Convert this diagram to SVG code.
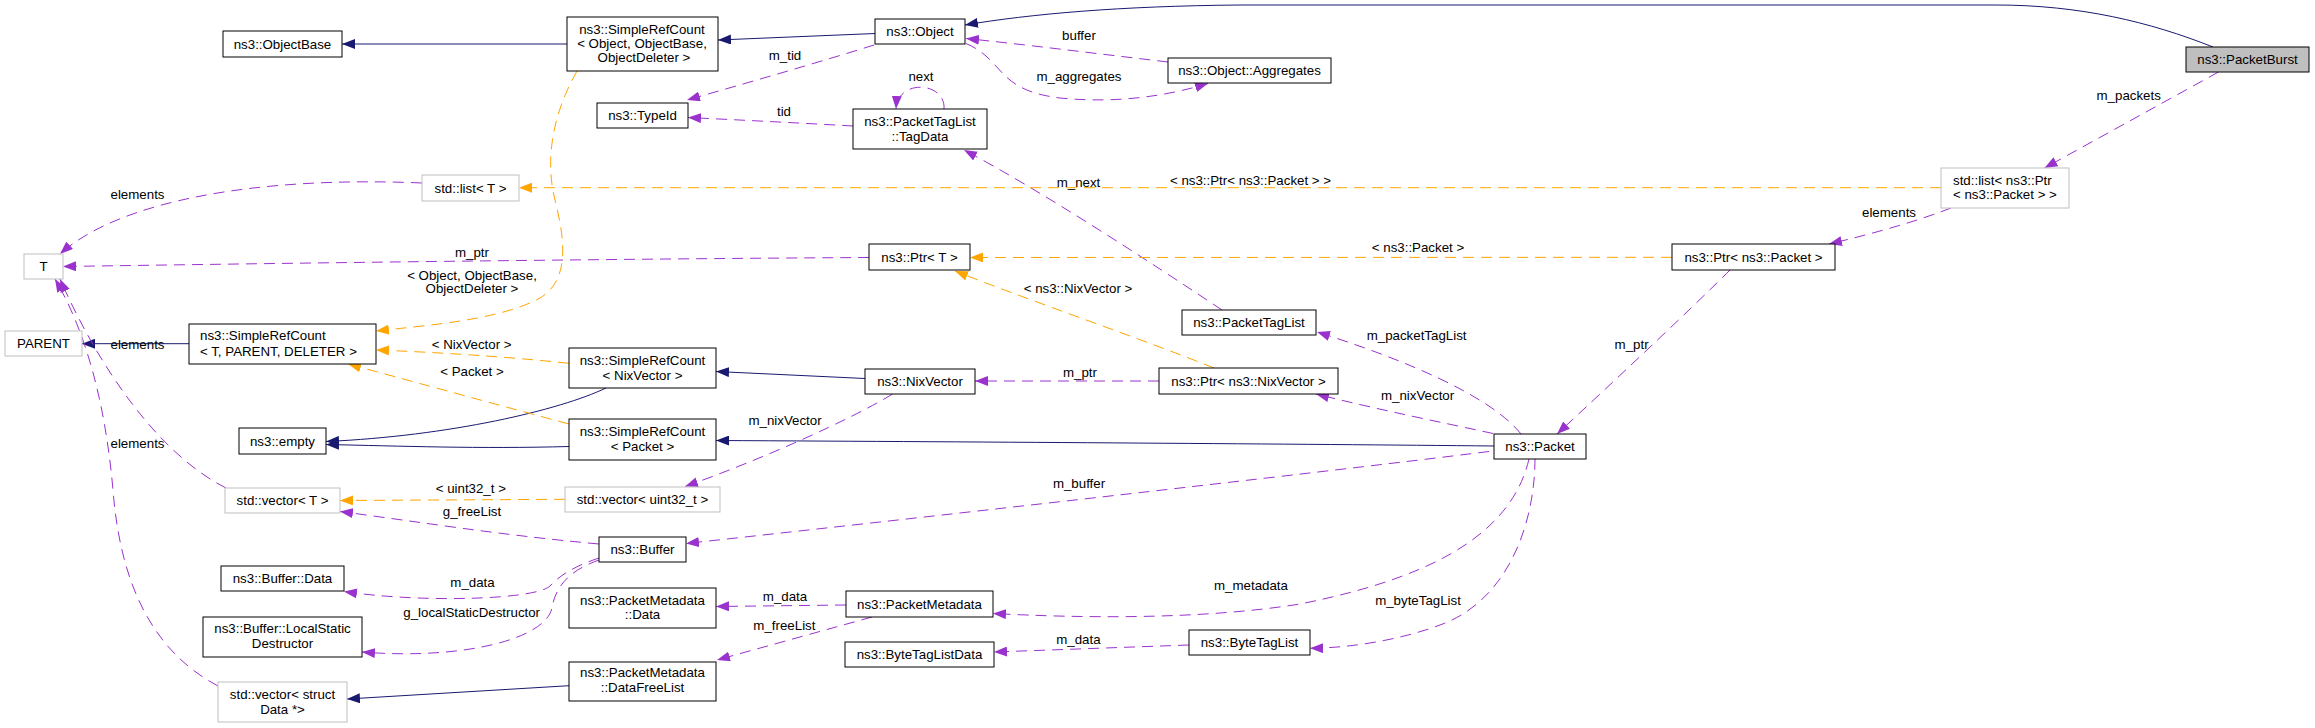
<svg xmlns="http://www.w3.org/2000/svg" width="2315" height="728" viewBox="0 0 2315 728">
<defs>
<style>
text{font-family:"Liberation Sans",Arial,sans-serif;font-size:13.3px;fill:#000;text-anchor:middle}
.l{text-anchor:start}
.node rect{fill:#fff;stroke:#000;stroke-width:1}
.node.u rect{stroke:#bfbfbf}
.node.hl rect{fill:#bfbfbf}
.edges path{fill:none;stroke-width:1}
.inh{stroke:#191970;marker-end:url(#an)}
.use{stroke:#9a32cd;stroke-dasharray:11,7;marker-end:url(#ap)}
.tpl{stroke:#ffa500;stroke-dasharray:11,7;marker-end:url(#ao)}
</style>
<marker id="an" viewBox="0 0 13 10" refX="13" refY="5" markerWidth="13" markerHeight="10" markerUnits="userSpaceOnUse" orient="auto"><path d="M0,0L13,5L0,10z" fill="#191970"/></marker>
<marker id="ap" viewBox="0 0 13 10" refX="13" refY="5" markerWidth="13" markerHeight="10" markerUnits="userSpaceOnUse" orient="auto"><path d="M0,0L13,5L0,10z" fill="#9a32cd"/></marker>
<marker id="ao" viewBox="0 0 13 10" refX="13" refY="5" markerWidth="13" markerHeight="10" markerUnits="userSpaceOnUse" orient="auto"><path d="M0,0L13,5L0,10z" fill="#ffa500"/></marker>
</defs>
<rect width="2315" height="728" fill="#fff"/>
<g id="connectors" class="edges">
<path class="inh" d="M567,44L342,44"/>
<path class="inh" d="M875,33.5L718,40"/>
<path class="inh" d="M2213,47C2150,22 2080,5 1996,5L1240,5C1120,6 1030,14 965,25"/>
<path class="inh" d="M189,343.7L82,343.7"/>
<path class="inh" d="M606,388C560,410 450,436 326,441.5"/>
<path class="inh" d="M569,446.5C480,449 400,446 326,444.5"/>
<path class="inh" d="M865,378.5L716,371.5"/>
<path class="inh" d="M1494,446C1300,444 1000,442 716,440.5"/>
<path class="inh" d="M569,685.7L347,699"/>
<path class="use" d="M874,45C820,62 740,85 687,100"/>
<path class="use" d="M853,126C800,123 740,120 688,117.5"/>
<path class="use" d="M944,109C946,82 898,78 896,109"/>
<path class="use" d="M1168,62C1100,54 1020,44 966,38.5"/>
<path class="use" d="M966,43.5C1005,60 995,90 1060,98C1120,104 1170,95 1208,83.5"/>
<path class="use" d="M1222,310C1150,262 1040,190 964,150"/>
<path class="use" d="M2218.5,72L2044.5,168"/>
<path class="use" d="M1951,208C1920,220 1880,232 1829,244"/>
<path class="use" d="M422,183C260,176 120,200 60,254"/>
<path class="use" d="M869,257.5C600,259 300,263 63,266.5"/>
<path class="use" d="M226,488C160,455 100,370 60,279"/>
<path class="use" d="M218,686C150,650 120,580 113,490C105,400 85,330 55,279"/>
<path class="use" d="M599,544C500,535 420,522 340,511.5"/>
<path class="use" d="M599,558C575,566 560,575 550,586C535,600 420,603 344,591.5"/>
<path class="use" d="M599,560C565,572 555,590 552,608C545,640 460,660 362,652"/>
<path class="use" d="M892.6,394C850,420 760,460 685,486.5"/>
<path class="use" d="M1159,381L975,381"/>
<path class="use" d="M1521,434C1490,395 1400,358 1317,332"/>
<path class="use" d="M1493,433.5C1440,422 1380,410 1316,394"/>
<path class="use" d="M1730,270C1690,310 1610,385 1557,434"/>
<path class="use" d="M1489,451.5C1300,475 900,520 686,543.5"/>
<path class="use" d="M1529,459C1510,540 1420,580 1300,604C1200,620 1080,618 993,613.5"/>
<path class="use" d="M1535,459C1535,520 1510,600 1440,625C1400,640 1350,648 1310,648.3"/>
<path class="use" d="M846,605L716,606.5"/>
<path class="use" d="M872,617L717,660"/>
<path class="use" d="M1189,645L994,652"/>
<path class="tpl" d="M1941,187.7L519,187.7"/>
<path class="tpl" d="M577,71C552,115 545,160 555,200C565,240 570,280 540,298C500,320 430,325 376,331"/>
<path class="tpl" d="M569,363.3C500,356 430,352 376,350"/>
<path class="tpl" d="M569,424C480,400 400,378 348,364"/>
<path class="tpl" d="M1672,257.3L970,257.5"/>
<path class="tpl" d="M1214,368C1150,342 1020,297 955,271"/>
<path class="tpl" d="M565,499.3L340,500.5"/>
<text x="785" y="59.5">m_tid</text>
<text x="784" y="116">tid</text>
<text x="921" y="81">next</text>
<text x="1079" y="39.5">buffer</text>
<text x="1079" y="80.5">m_aggregates</text>
<text x="1078.5" y="187">m_next</text>
<text x="2128.7" y="100">m_packets</text>
<text x="1889" y="216.5">elements</text>
<text x="137.5" y="199">elements</text>
<text x="472" y="256.8">m_ptr</text>
<text x="137.5" y="348.5">elements</text>
<text x="137.5" y="448">elements</text>
<text x="472" y="516">g_freeList</text>
<text x="472.5" y="587">m_data</text>
<text x="471.7" y="617">g_localStaticDestructor</text>
<text x="785" y="425">m_nixVector</text>
<text x="1080" y="377">m_ptr</text>
<text x="1416.6" y="340">m_packetTagList</text>
<text x="1417.6" y="400">m_nixVector</text>
<text x="1631.6" y="348.5">m_ptr</text>
<text x="1079" y="488">m_buffer</text>
<text x="1251" y="589.5">m_metadata</text>
<text x="1418" y="605">m_byteTagList</text>
<text x="785" y="601">m_data</text>
<text x="784.4" y="629.5">m_freeList</text>
<text x="1078.4" y="643.5">m_data</text>
<text x="1250.5" y="184.5">&lt; ns3::Ptr&lt; ns3::Packet &gt; &gt;</text>
<text x="472" y="279.5">&lt; Object, ObjectBase,</text>
<text x="472" y="293">ObjectDeleter &gt;</text>
<text x="471.7" y="348.5">&lt; NixVector &gt;</text>
<text x="472" y="376">&lt; Packet &gt;</text>
<text x="1418" y="252">&lt; ns3::Packet &gt;</text>
<text x="1078" y="292.5">&lt; ns3::NixVector &gt;</text>
<text x="470.8" y="492.5">&lt; uint32_t &gt;</text>
</g>
<g id="n_objectbase" class="node"><rect x="223" y="31" width="119" height="26"/><text x="282.5" y="48.5">ns3::ObjectBase</text></g>
<g id="n_src_object" class="node"><rect x="567" y="17" width="151" height="54"/><text x="642" y="34">ns3::SimpleRefCount</text><text x="642" y="48">&lt; Object, ObjectBase,</text><text x="644" y="62">ObjectDeleter &gt;</text></g>
<g id="n_object" class="node"><rect x="875" y="19" width="90" height="25"/><text x="920" y="36">ns3::Object</text></g>
<g id="n_typeid" class="node"><rect x="597" y="103" width="91" height="25"/><text x="642.5" y="120">ns3::TypeId</text></g>
<g id="n_tagdata" class="node"><rect x="853" y="109" width="134" height="40"/><text x="920" y="125.5">ns3::PacketTagList</text><text x="920" y="140.5">::TagData</text></g>
<g id="n_aggregates" class="node"><rect x="1168" y="58" width="163" height="25"/><text x="1249.5" y="75">ns3::Object::Aggregates</text></g>
<g id="n_packetburst" class="node hl"><rect x="2186" y="47" width="123" height="25"/><text x="2247.5" y="64">ns3::PacketBurst</text></g>
<g id="n_stdlist_t" class="node u"><rect x="422" y="175" width="97" height="26"/><text x="470.5" y="192.5">std::list&lt; T &gt;</text></g>
<g id="n_stdlist_ptr" class="node u"><rect x="1941" y="168" width="128" height="40"/><text class="l" x="1953" y="184.5">std::list&lt; ns3::Ptr</text><text class="l" x="1953" y="199">&lt; ns3::Packet &gt; &gt;</text></g>
<g id="n_t" class="node u"><rect x="24" y="254" width="39" height="25"/><text x="43.5" y="271">T</text></g>
<g id="n_ptr_t" class="node"><rect x="869" y="244" width="101" height="26"/><text x="919.5" y="261.5">ns3::Ptr&lt; T &gt;</text></g>
<g id="n_ptr_packet" class="node"><rect x="1672" y="244" width="163" height="26"/><text x="1753.5" y="261.5">ns3::Ptr&lt; ns3::Packet &gt;</text></g>
<g id="n_parent" class="node u"><rect x="5" y="331" width="77" height="25"/><text x="43.5" y="348">PARENT</text></g>
<g id="n_src_t" class="node"><rect x="189" y="324" width="187" height="40"/><text class="l" x="200" y="340">ns3::SimpleRefCount</text><text class="l" x="200" y="355.5">&lt; T, PARENT, DELETER &gt;</text></g>
<g id="n_src_nix" class="node"><rect x="569" y="348" width="147" height="40"/><text x="642.5" y="364.5">ns3::SimpleRefCount</text><text x="642.5" y="379.5">&lt; NixVector &gt;</text></g>
<g id="n_src_packet" class="node"><rect x="569" y="419" width="147" height="41"/><text x="642.5" y="436">ns3::SimpleRefCount</text><text x="642.5" y="451">&lt; Packet &gt;</text></g>
<g id="n_empty" class="node"><rect x="239" y="428" width="87" height="26"/><text x="282.5" y="445.5">ns3::empty</text></g>
<g id="n_nixvector" class="node"><rect x="865" y="369" width="110" height="25"/><text x="920" y="386">ns3::NixVector</text></g>
<g id="n_packettaglist" class="node"><rect x="1182" y="310" width="134" height="25"/><text x="1249" y="327">ns3::PacketTagList</text></g>
<g id="n_ptr_nix" class="node"><rect x="1159" y="368" width="179" height="26"/><text x="1248.5" y="385.5">ns3::Ptr&lt; ns3::NixVector &gt;</text></g>
<g id="n_packet" class="node"><rect x="1494" y="434" width="92" height="25"/><text x="1540" y="451">ns3::Packet</text></g>
<g id="n_vec_uint" class="node u"><rect x="565" y="487" width="155" height="25"/><text x="642.5" y="504">std::vector&lt; uint32_t &gt;</text></g>
<g id="n_vec_t" class="node u"><rect x="225" y="488" width="115" height="25"/><text x="282.5" y="505">std::vector&lt; T &gt;</text></g>
<g id="n_buffer" class="node"><rect x="599" y="537" width="87" height="25"/><text x="642.5" y="554">ns3::Buffer</text></g>
<g id="n_buffer_data" class="node"><rect x="221" y="566" width="123" height="25"/><text x="282.5" y="583">ns3::Buffer::Data</text></g>
<g id="n_lsd" class="node"><rect x="203" y="617" width="159" height="40"/><text x="282.5" y="632.5">ns3::Buffer::LocalStatic</text><text x="282.5" y="648">Destructor</text></g>
<g id="n_vec_struct" class="node u"><rect x="218" y="682" width="129" height="40"/><text x="282.5" y="699">std::vector&lt; struct</text><text x="282.5" y="713.5">Data *&gt;</text></g>
<g id="n_pm_data" class="node"><rect x="569" y="588" width="147" height="40"/><text x="642.5" y="604.5">ns3::PacketMetadata</text><text x="642.5" y="619">::Data</text></g>
<g id="n_pm" class="node"><rect x="846" y="591" width="147" height="26"/><text x="919.5" y="608.5">ns3::PacketMetadata</text></g>
<g id="n_pm_free" class="node"><rect x="569" y="662" width="147" height="39"/><text x="642.5" y="677">ns3::PacketMetadata</text><text x="642.5" y="691.5">::DataFreeList</text></g>
<g id="n_btld" class="node"><rect x="845" y="642" width="149" height="25"/><text x="919.5" y="659">ns3::ByteTagListData</text></g>
<g id="n_btl" class="node"><rect x="1189" y="630" width="121" height="25"/><text x="1249.5" y="647">ns3::ByteTagList</text></g>
</svg>
